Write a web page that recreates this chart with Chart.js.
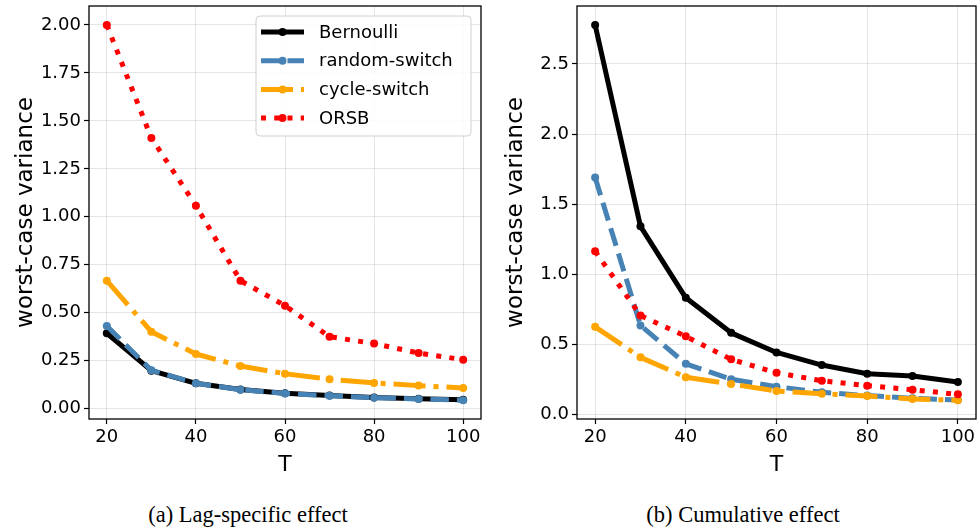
<!DOCTYPE html>
<html>
<head>
<meta charset="utf-8">
<script src="https://cdn.jsdelivr.net/npm/chart.js@4.4.1/dist/chart.umd.min.js"></script>
<style>
  body { margin: 0; background: #fff; width: 980px; height: 531px; position: relative; overflow: hidden; }
  .box { position: absolute; top: 0; width: 490px; height: 480px; }
  .cap { position: absolute; top: 502px; font-family: "Liberation Serif", "Times New Roman", serif; font-size: 22.5px; color: #000; white-space: nowrap; transform: translateX(-50%); }
</style>
</head>
<body>
<div class="box" style="left:0"><canvas id="lagChart" width="490" height="480"></canvas></div>
<div class="box" style="left:490px"><canvas id="cumChart" width="490" height="480"></canvas></div>
<div class="cap" style="left:248px">(a) Lag-specific effect</div>
<div class="cap" style="left:743px">(b) Cumulative effect</div>
<script>
// x values (T)
const T = [20, 30, 40, 50, 60, 70, 80, 90, 100];
const seriesNames = ['Bernoulli', 'random-switch', 'cycle-switch', 'ORSB'];

// (a) lag-specific effect
const lagBernoulli = [0.393, 0.198, 0.132, 0.100, 0.080, 0.068, 0.058, 0.051, 0.046];
const lagRandom    = [0.431, 0.200, 0.132, 0.099, 0.079, 0.067, 0.057, 0.050, 0.044];
const lagCycle     = [0.667, 0.401, 0.285, 0.222, 0.182, 0.153, 0.134, 0.120, 0.108];
const lagORSB      = [2.000, 1.411, 1.058, 0.667, 0.537, 0.375, 0.339, 0.290, 0.255];

// (b) cumulative effect
const cumBernoulli = [2.778, 1.341, 0.831, 0.581, 0.441, 0.351, 0.289, 0.273, 0.230];
const cumRandom    = [1.690, 0.634, 0.360, 0.249, 0.197, 0.157, 0.133, 0.114, 0.102];
const cumCycle     = [0.624, 0.406, 0.264, 0.216, 0.166, 0.147, 0.130, 0.109, 0.100];
const cumORSB      = [1.163, 0.705, 0.556, 0.392, 0.296, 0.239, 0.204, 0.175, 0.142];

// tick labels
const xTicks = [20, 40, 60, 80, 100];
const lagYTicks = [0, 0.25, 0.5, 0.75, 1.0, 1.25, 1.5, 1.75, 2.0];
const cumYTicks = [0, 0.5, 1.0, 1.5, 2.0, 2.5];

const FONT = "'DejaVu Sans', sans-serif";
const LW = 5;
const styles = [
    { color: '#000000', dash: [], order: 4 },
    { color: '#4682B4', dash: [18.5, 8], order: 3 },
    { color: '#FFA500', dash: [32, 8, 5, 8], order: 2 },
    { color: '#FF0000', dash: [5, 8.25], order: 1 }
];

function makeDatasets(lists) {
    return lists.map((vals, i) => ({
        label: seriesNames[i],
        data: T.map((t, j) => ({ x: t, y: vals[j] })),
        borderColor: styles[i].color,
        backgroundColor: styles[i].color,
        borderWidth: LW,
        borderDash: styles[i].dash,
        borderCapStyle: 'butt',
        borderJoinStyle: 'round',
        pointRadius: 4,
        pointBorderWidth: 0,
        pointHoverRadius: 4,
        tension: 0,
        order: styles[i].order
    }));
}

// frame around the plot area, like matplotlib spines
const framePlugin = {
    id: 'frame',
    afterDatasetsDraw(chart) {
        const a = chart.chartArea;
        const ctx = chart.ctx;
        ctx.save();
        ctx.strokeStyle = '#000';
        ctx.lineWidth = 1.3;
        ctx.setLineDash([]);
        ctx.strokeRect(a.left, a.top, a.right - a.left, a.bottom - a.top);
        ctx.restore();
    }
};

// legend drawn inside the axes
const insideLegend = {
    id: 'insideLegend',
    afterDraw(chart, args, opts) {
        if (!opts.show) return;
        const ctx = chart.ctx;
        const x0 = opts.x, y0 = opts.y, w = opts.w, h = opts.h;
        ctx.save();
        ctx.fillStyle = 'rgba(255,255,255,0.85)';
        ctx.strokeStyle = '#d0d0d0';
        ctx.lineWidth = 1;
        ctx.beginPath();
        ctx.roundRect(x0, y0, w, h, 4);
        ctx.fill();
        ctx.stroke();
        chart.data.datasets.forEach((ds, i) => {
            const y = y0 + 16 + i * 28.7;
            ctx.strokeStyle = ds.borderColor;
            ctx.lineWidth = LW;
            ctx.lineCap = 'butt';
            ctx.setLineDash(ds.borderDash);
            ctx.beginPath();
            ctx.moveTo(x0 + 5, y);
            ctx.lineTo(x0 + 48, y);
            ctx.stroke();
            ctx.setLineDash([]);
            ctx.fillStyle = ds.borderColor;
            ctx.beginPath();
            ctx.arc(x0 + 26.5, y, 4, 0, Math.PI * 2);
            ctx.fill();
            ctx.fillStyle = '#000';
            ctx.font = '18px ' + FONT;
            ctx.textBaseline = 'middle';
            ctx.fillText(ds.label, x0 + 63, y + 1);
        });
        ctx.restore();
    }
};

function makeChart(id, lists, yMin, yMax, yTicks, digits, legend) {
    const ctx = document.getElementById(id).getContext('2d');
    return new Chart(ctx, {
        type: 'line',
        data: { datasets: makeDatasets(lists) },
        plugins: [framePlugin, insideLegend],
        options: {
            responsive: false,
            animation: false,
            events: [],
            layout: { padding: { top: 6, right: id === 'lagChart' ? 9 : 1, left: 0, bottom: 0 } },
            plugins: {
                legend: { display: false },
                tooltip: { enabled: false },
                insideLegend: legend
            },
            scales: {
                x: {
                    type: 'linear',
                    min: 16,
                    max: 104,
                    afterBuildTicks: s => { s.ticks = xTicks.map(v => ({ value: v })); },
                    afterFit: s => { s.height = 61; s.paddingLeft = 0; s.paddingRight = 0; },
                    grid: { color: 'rgba(0,0,0,0.1)', lineWidth: 1, tickColor: '#000', tickLength: 5, tickWidth: 1.2 },
                    border: { display: false },
                    ticks: { color: '#000', font: { family: FONT, size: 18 }, padding: 3, maxRotation: 0 },
                    title: { display: true, text: 'T', color: '#000', font: { family: FONT, size: 22 }, padding: { top: 0, bottom: 2 } }
                },
                y: {
                    min: yMin,
                    max: yMax,
                    afterBuildTicks: s => { s.ticks = yTicks.map(v => ({ value: v })); },
                    afterFit: s => { s.width = id === 'lagChart' ? 89 : 87; s.paddingTop = 0; s.paddingBottom = 0; },
                    grid: { color: 'rgba(0,0,0,0.1)', lineWidth: 1, tickColor: '#000', tickLength: 5, tickWidth: 1.2 },
                    border: { display: false },
                    ticks: { color: '#000', font: { family: FONT, size: 18 }, padding: 3,
                        callback: v => v.toFixed(digits) },
                    title: { display: true, text: 'worst-case variance', color: '#000', font: { family: FONT, size: 23 }, padding: { top: 12, bottom: 0 } }
                }
            }
        }
    });
}

window.addEventListener('DOMContentLoaded', () => {
    makeChart('lagChart', [lagBernoulli, lagRandom, lagCycle, lagORSB], -0.054, 2.099, lagYTicks, 2,
        { show: true, x: 256, y: 16, w: 215, h: 120 });
    makeChart('cumChart', [cumBernoulli, cumRandom, cumCycle, cumORSB], -0.034, 2.914, cumYTicks, 1,
        { show: false });
});
</script>
</body>
</html>
